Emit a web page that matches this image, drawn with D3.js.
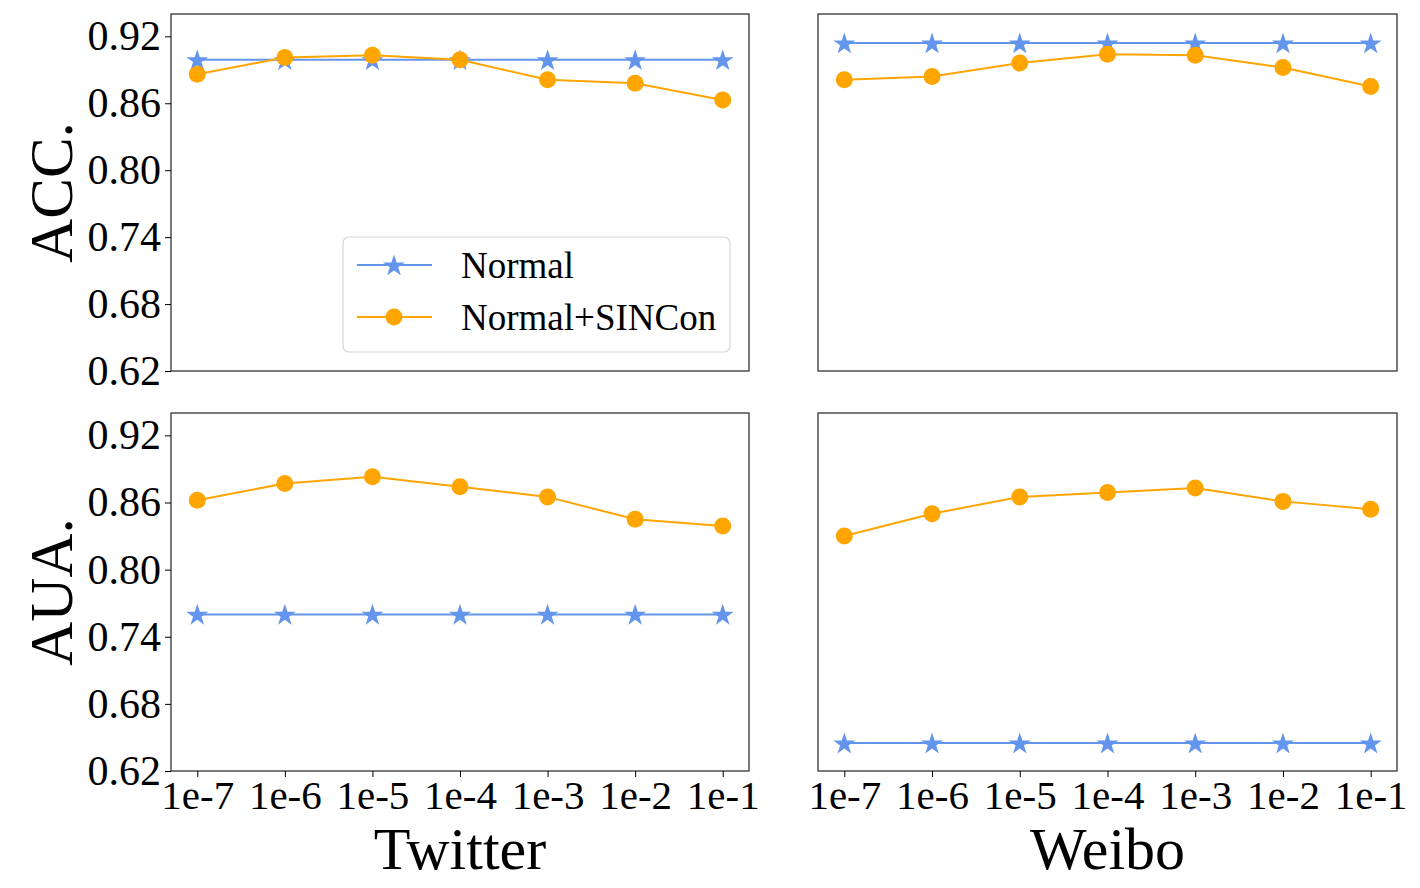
<!DOCTYPE html>
<html>
<head>
<meta charset="utf-8">
<script src="https://cdn.jsdelivr.net/npm/d3@7"></script>
<style>
  body { margin: 0; background: #fff; }
  svg { display: block; font-family: "Liberation Serif", "Times New Roman", serif; }
</style>
</head>
<body>
<svg id="chart" width="1420" height="888"></svg>
<script>
// tick labels / categories
const xLabels = ["1e-7", "1e-6", "1e-5", "1e-4", "1e-3", "1e-2", "1e-1"];
const yTicks = [0.62, 0.68, 0.74, 0.80, 0.86, 0.92];

// ACC.
const twitterAccNormal = [0.899, 0.899, 0.899, 0.899, 0.899, 0.899, 0.899];
const twitterAccSincon = [0.886, 0.901, 0.903, 0.899, 0.881, 0.878, 0.863];
const weiboAccNormal = [0.914, 0.914, 0.914, 0.914, 0.914, 0.914, 0.914];
const weiboAccSincon = [0.881, 0.884, 0.896, 0.904, 0.903, 0.892, 0.875];

// AUA.
const twitterAuaNormal = [0.760, 0.760, 0.760, 0.760, 0.760, 0.760, 0.760];
const twitterAuaSincon = [0.862, 0.877, 0.883, 0.874, 0.865, 0.845, 0.839];
const weiboAuaNormal = [0.645, 0.645, 0.645, 0.645, 0.645, 0.645, 0.645];
const weiboAuaSincon = [0.830, 0.850, 0.865, 0.869, 0.873, 0.861, 0.854];

const blue = "#6495ed", orange = "#ffa500";

let svg = d3.select("#chart");

let panels = [
  { x0: 171, x1: 749, y0: 14, y1: 371, normal: twitterAccNormal, sincon: twitterAccSincon, yAxis: true, xAxis: false, legend: true },
  { x0: 818, x1: 1397, y0: 14, y1: 371, normal: weiboAccNormal, sincon: weiboAccSincon, yAxis: false, xAxis: false },
  { x0: 171, x1: 749, y0: 413, y1: 771, normal: twitterAuaNormal, sincon: twitterAuaSincon, yAxis: true, xAxis: true },
  { x0: 818, x1: 1397, y0: 413, y1: 771, normal: weiboAuaNormal, sincon: weiboAuaSincon, yAxis: false, xAxis: true },
];

let star = d3.symbol().type(d3.symbolStar).size(150);

panels.forEach((p) => {
  let x = d3.scalePoint().domain(xLabels).range([p.x0, p.x1]).padding(0.3);
  let y = d3.scaleLinear().domain([0.62, 0.94]).range([p.y1, p.y0]);
  let g = svg.append("g");

  let line = d3.line().x((d, i) => x(xLabels[i])).y((d) => y(d));

  // Normal
  g.append("path")
    .datum(p.normal)
    .attr("fill", "none")
    .attr("stroke", blue)
    .attr("stroke-width", 2)
    .attr("d", line);
  g.selectAll("path.star")
    .data(p.normal)
    .join("path")
    .attr("class", "star")
    .attr("transform", (d, i) => `translate(${x(xLabels[i])},${y(d) + 1})`)
    .attr("d", star)
    .attr("fill", blue);

  // Normal+SINCon
  g.append("path")
    .datum(p.sincon)
    .attr("fill", "none")
    .attr("stroke", orange)
    .attr("stroke-width", 2)
    .attr("d", line);
  g.selectAll("circle")
    .data(p.sincon)
    .join("circle")
    .attr("cx", (d, i) => x(xLabels[i]))
    .attr("cy", (d) => y(d))
    .attr("r", 8.5)
    .attr("fill", orange);

  // frame
  g.append("rect")
    .attr("x", p.x0).attr("y", p.y0)
    .attr("width", p.x1 - p.x0).attr("height", p.y1 - p.y0)
    .attr("fill", "none").attr("stroke", "#222").attr("stroke-width", 1.2);

  if (p.yAxis) {
    let ay = g.append("g")
      .attr("transform", `translate(${p.x0},0)`)
      .call(d3.axisLeft(y).tickValues(yTicks).tickFormat(d3.format(".2f")).tickSize(6).tickPadding(4));
    ay.select(".domain").remove();
    ay.selectAll("text").attr("font-size", 42).attr("fill", "#000").attr("font-family", "Liberation Serif");
  }
  if (p.xAxis) {
    let ax = g.append("g")
      .attr("transform", `translate(0,${p.y1})`)
      .call(d3.axisBottom(x).tickSize(6).tickPadding(3));
    ax.select(".domain").remove();
    ax.selectAll("text").attr("font-size", 41).attr("fill", "#000").attr("font-family", "Liberation Serif");
  }

  if (p.legend) {
    let lg = svg.append("g");
    lg.append("rect")
      .attr("x", 343).attr("y", 237).attr("width", 387).attr("height", 115)
      .attr("rx", 6).attr("fill", "#fff").attr("fill-opacity", 0.85)
      .attr("stroke", "#d6d6d6").attr("stroke-width", 1.2);
    let items = [
      { name: "Normal", color: blue, mark: "star", y: 265 },
      { name: "Normal+SINCon", color: orange, mark: "circle", y: 317 },
    ];
    items.forEach((it) => {
      lg.append("line")
        .attr("x1", 357).attr("x2", 432).attr("y1", it.y).attr("y2", it.y)
        .attr("stroke", it.color).attr("stroke-width", 2);
      if (it.mark === "star") {
        lg.append("path").attr("d", star).attr("fill", it.color)
          .attr("transform", `translate(394,${it.y + 1})`);
      } else {
        lg.append("circle").attr("cx", 394).attr("cy", it.y).attr("r", 8.5).attr("fill", it.color);
      }
      lg.append("text")
        .attr("x", 461).attr("y", it.y).attr("dy", "0.35em")
        .attr("font-size", 37).attr("fill", "#000")
        .text(it.name);
    });
  }
});

// axis titles
svg.append("text")
  .attr("transform", `translate(72,${(14 + 371) / 2}) rotate(-90)`)
  .attr("text-anchor", "middle").attr("font-size", 61).text("ACC.");
svg.append("text")
  .attr("transform", `translate(72,${(413 + 771) / 2}) rotate(-90)`)
  .attr("text-anchor", "middle").attr("font-size", 61).text("AUA.");
svg.append("text")
  .attr("x", (171 + 749) / 2).attr("y", 869)
  .attr("text-anchor", "middle").attr("font-size", 60).text("Twitter");
svg.append("text")
  .attr("x", (818 + 1397) / 2).attr("y", 869)
  .attr("text-anchor", "middle").attr("font-size", 60).text("Weibo");
</script>
</body>
</html>
